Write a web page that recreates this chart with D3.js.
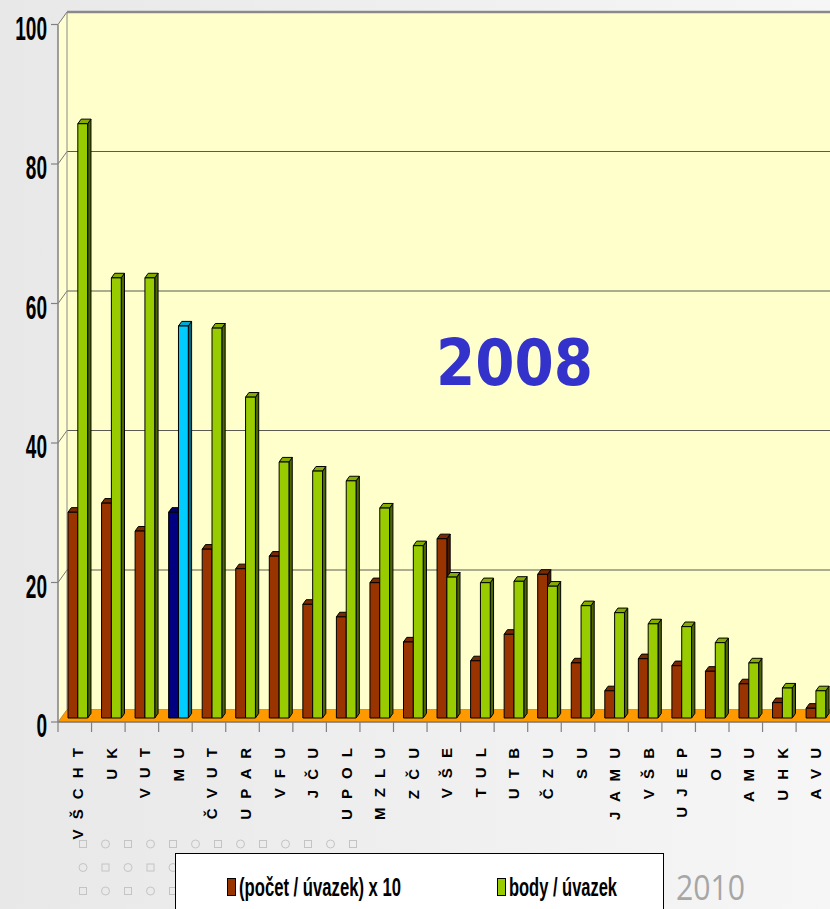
<!DOCTYPE html>
<html>
<head>
<meta charset="utf-8">
<script src="https://cdn.jsdelivr.net/npm/d3@7"></script>
<style>
  body { margin: 0; overflow: hidden; }
  svg { display: block; }
</style>
</head>
<body>
<script>
// Data (2008)
const schools = ["VŠCHT", "UK", "VUT", "MU", "ČVUT", "UPAR", "VFU", "JČU", "UPOL", "MZLU", "ZČU", "VŠE",
  "TUL", "UTB", "ČZU", "SU", "JAMU", "VŠB", "UJEP", "OU", "AMU", "UHK", "AVU"];
const pocet = [29.5, 30.8, 26.8, 29.5, 24.2, 21.4, 23.2, 16.3, 14.5, 19.4, 10.9, 25.7,
  8.2, 12.0, 20.6, 7.9, 3.9, 8.5, 7.5, 6.7, 4.9, 2.2, 1.4];
const body = [85.2, 63.1, 63.1, 56.2, 55.9, 46.0, 36.7, 35.4, 34.0, 30.1, 24.7, 20.2,
  19.4, 19.6, 18.9, 16.1, 15.1, 13.5, 13.1, 10.8, 7.9, 4.3, 3.9];
const yTicks = [0, 20, 40, 60, 80, 100];
const seriesNames = ["(počet / úvazek) x 10", "body / úvazek"];
const highlight = "MU";

const width = 830;
const height = 909;

// 3D offsets: back wall depth and bar depth
const wall = { dx: 9, dy: -12.5 };
const bar = { dx: 3.3, dy: -4.6 };

const svg = d3
  .select("body")
  .append("svg")
  .attr("width", width)
  .attr("height", height);

// background gradient
const defs = svg.append("defs");
const grad = defs.append("linearGradient").attr("id", "bg").attr("x1", 0).attr("x2", 1).attr("y1", 0).attr("y2", 0);
grad.append("stop").attr("offset", "0%").attr("stop-color", "#e8e8e8");
grad.append("stop").attr("offset", "100%").attr("stop-color", "#f6f6f6");
svg.append("rect").attr("width", width).attr("height", height).attr("fill", "url(#bg)");

// Scales
const x = d3.scaleBand().domain(schools).range([58, 58 + schools.length * 33.55]).padding(0);
const xs = d3.scaleBand().domain(["pocet", "body"]).range([0.298, 0.884]).padding(0);
const y = d3.scaleLinear().domain([0, 100]).range([722, 24.5]);

const x0 = x.range()[0];
const xEnd = width + 20;

// side wall (left)
svg.append("polygon")
  .attr("points", [[x0, y(0)], [x0, y(100)], [x0 + wall.dx, y(100) + wall.dy], [x0 + wall.dx, y(0) + wall.dy]].join(" "))
  .attr("fill", "#ffffd2");

// back wall
svg.append("rect")
  .attr("x", x0 + wall.dx)
  .attr("y", y(100) + wall.dy)
  .attr("width", xEnd - x0 - wall.dx)
  .attr("height", y(0) - y(100))
  .attr("fill", "#ffffcc");

// gridlines on back wall + diagonal on side wall
const grid = svg.append("g");
yTicks.filter((d) => d > 0).forEach((t) => {
  grid.append("line")
    .attr("x1", x0 + wall.dx).attr("x2", xEnd)
    .attr("y1", y(t) + wall.dy).attr("y2", y(t) + wall.dy)
    .attr("stroke", t === 100 ? "#8a8a8a" : "#5a5a50")
    .attr("stroke-width", t === 100 ? 2.5 : 1.2);
  grid.append("line")
    .attr("x1", x0).attr("x2", x0 + wall.dx)
    .attr("y1", y(t)).attr("y2", y(t) + wall.dy)
    .attr("stroke", "#777").attr("stroke-width", 1);
});
grid.append("line")
  .attr("x1", x0 + wall.dx).attr("x2", x0 + wall.dx)
  .attr("y1", y(100) + wall.dy).attr("y2", y(0) + wall.dy)
  .attr("stroke", "#8a8a8a").attr("stroke-width", 1);

// floor
svg.append("polygon")
  .attr("points", [[x0, y(0)], [x0 + wall.dx, y(0) + wall.dy], [xEnd, y(0) + wall.dy], [xEnd, y(0)]].join(" "))
  .attr("fill", "#ff9900")
  .attr("stroke", "#a07030")
  .attr("stroke-width", 0.6);

// y axis
const yAxis = svg.append("g");
yAxis.append("line")
  .attr("x1", x0).attr("x2", x0).attr("y1", y(100)).attr("y2", y(0))
  .attr("stroke", "#808080").attr("stroke-width", 1.5);
yTicks.forEach((t) => {
  yAxis.append("line")
    .attr("x1", x0 - 7).attr("x2", x0).attr("y1", y(t)).attr("y2", y(t))
    .attr("stroke", "#808080").attr("stroke-width", 1.2);
  const len = String(t).length * 10.6;
  yAxis.append("text")
    .attr("x", 47 - len)
    .attr("y", y(t) + 15)
    .attr("textLength", len)
    .attr("lengthAdjust", "spacingAndGlyphs")
    .style("font-family", "Liberation Sans, Arial, sans-serif")
    .style("font-weight", "bold")
    .style("font-size", "34px")
    .attr("fill", "#000")
    .text(t);
});

// x axis
const xAxis = svg.append("g");
xAxis.append("line")
  .attr("x1", x0).attr("x2", xEnd).attr("y1", y(0)).attr("y2", y(0))
  .attr("stroke", "#808080").attr("stroke-width", 1.5);
schools.forEach((s) => {
  xAxis.append("line")
    .attr("x1", x(s)).attr("x2", x(s)).attr("y1", y(0)).attr("y2", y(0) + 10)
    .attr("stroke", "#808080").attr("stroke-width", 1.2);
});
xAxis.selectAll("text.cat")
  .data(schools)
  .join("text")
  .attr("class", "cat")
  .attr("transform", (d) => `translate(${x(d) + x.bandwidth() / 2 + 8.5},745) rotate(-90)`)
  .attr("text-anchor", "end")
  .style("font-family", "Liberation Sans, Arial, sans-serif")
  .style("font-weight", "bold")
  .style("font-size", "15px")
  .style("letter-spacing", "3px")
  .attr("fill", "#000")
  .text((d) => d.split("").join(" "));

// bars
const colors = {
  pocet: { front: "#993300", top: "#7a2900", side: "#4d1a00" },
  body: { front: "#99cc00", top: "#84ad00", side: "#4d6600" },
  pocetHi: { front: "#000080", top: "#000066", side: "#000040" },
  bodyHi: { front: "#00ccff", top: "#00a8d4", side: "#006680" },
};

const rows = [];
schools.forEach((s, i) => {
  rows.push({ school: s, key: "pocet", value: pocet[i] });
  rows.push({ school: s, key: "body", value: body[i] });
});

const bw = x.bandwidth();
const barsG = svg.append("g");
rows.forEach((d) => {
  const c = colors[d.school === highlight ? d.key + "Hi" : d.key];
  const bx0 = x(d.school) + xs(d.key) * bw;
  const bx1 = bx0 + xs.bandwidth() * bw;
  const yb = y(0) - 4;
  const yt = y(d.value) - 4;
  const g = barsG.append("g")
    .attr("stroke", "#000")
    .attr("stroke-width", 1)
    .attr("stroke-linejoin", "round");
  g.append("polygon")
    .attr("points", [[bx1, yt], [bx1 + bar.dx, yt + bar.dy], [bx1 + bar.dx, yb + bar.dy], [bx1, yb]].join(" "))
    .attr("fill", c.side);
  g.append("polygon")
    .attr("points", [[bx0, yt], [bx0 + bar.dx, yt + bar.dy], [bx1 + bar.dx, yt + bar.dy], [bx1, yt]].join(" "))
    .attr("fill", c.top);
  g.append("rect")
    .attr("x", bx0).attr("y", yt)
    .attr("width", bx1 - bx0).attr("height", yb - yt)
    .attr("fill", c.front);
});

// year label
svg.append("text")
  .attr("x", 436)
  .attr("y", 385)
  .attr("textLength", 157)
  .attr("lengthAdjust", "spacingAndGlyphs")
  .style("font-family", "DejaVu Sans, Verdana, sans-serif")
  .style("font-weight", "bold")
  .style("font-size", "64px")
  .attr("fill", "#3333cc")
  .text("2008");

// decorative pattern bottom-left
const pat = svg.append("g").attr("fill", "none").attr("stroke", "#c4c4c4").attr("stroke-width", 1);
d3.range(4).forEach((r) => {
  d3.range(13).forEach((c) => {
    const cx = 83 + c * 22.5;
    const cy = 844 + r * 23.5;
    if ((r + c) % 2 === 0) {
      pat.append("rect").attr("x", cx - 3.5).attr("y", cy - 3.5).attr("width", 7).attr("height", 7);
    } else {
      pat.append("circle").attr("cx", cx).attr("cy", cy).attr("r", 4);
    }
  });
});

// legend
const legend = svg.append("g");
legend.append("rect")
  .attr("x", 175.5).attr("y", 853.5)
  .attr("width", 488).attr("height", 70)
  .attr("fill", "#fff").attr("stroke", "#000").attr("stroke-width", 1);
const legendItems = [
  { label: seriesNames[0], color: colors.pocet.front, x: 227, len: 162 },
  { label: seriesNames[1], color: colors.body.front, x: 497, len: 108 },
];
legendItems.forEach((d) => {
  legend.append("rect")
    .attr("x", d.x + 0.5).attr("y", 878.5)
    .attr("width", 8).attr("height", 17)
    .attr("fill", d.color).attr("stroke", "#000").attr("stroke-width", 1);
  legend.append("text")
    .attr("x", d.x + 12)
    .attr("y", 896)
    .attr("textLength", d.len)
    .attr("lengthAdjust", "spacingAndGlyphs")
    .style("font-family", "Liberation Sans, Arial, sans-serif")
    .style("font-weight", "bold")
    .style("font-size", "26px")
    .attr("fill", "#000")
    .text(d.label);
});

// footer year
svg.append("text")
  .attr("x", 676)
  .attr("y", 900)
  .attr("textLength", 69)
  .attr("lengthAdjust", "spacingAndGlyphs")
  .style("font-family", "Open Sans, sans-serif")
  .style("font-size", "34px")
  .attr("fill", "#a6a6a6")
  .text("2010");
</script>
</body>
</html>
